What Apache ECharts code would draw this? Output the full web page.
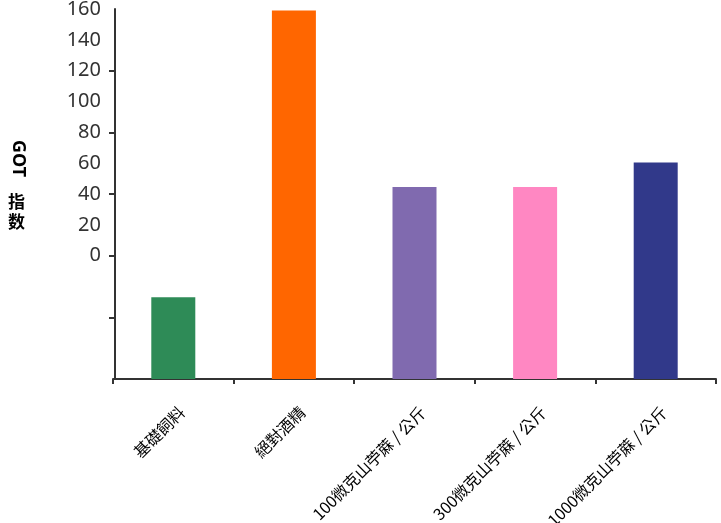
<!DOCTYPE html>
<html>
<head>
<meta charset="utf-8">
<script src="https://cdn.jsdelivr.net/npm/echarts@6/dist/echarts.min.js"></script>
<style>html,body{margin:0;padding:0;background:#fff}#c{width:721px;height:523px}</style>
</head>
<body>
<div id="c"></div>
<script>
var categories = ['基礎飼料', '絕對酒精', '100微克山苧蔴 / 公斤', '300微克山苧蔴 / 公斤', '1000微克山苧蔴 / 公斤'];
var values = [-27, 159, 44.5, 44.5, 60.5];
var colors = ['#2e8b57', '#ff6600', '#806aaf', '#ff87c2', '#31398a'];
var yLabelValues = [0, 20, 40, 60, 80, 100, 120, 140, 160];
var yTickValues = [-40, 0, 40, 80, 120];
var yMin = -80, yMax = 160;

var chart = echarts.init(document.getElementById('c'), null, {renderer: 'canvas'});
chart.setOption({
  animation: false,
  backgroundColor: '#fff',
  grid: {left: 113, right: 5, top: 9, bottom: 144, containLabel: false, outerBoundsMode: 'none'},
  xAxis: {
    type: 'category',
    data: categories,
    axisLine: {onZero: false, lineStyle: {color: '#333', width: 2}},
    axisTick: {show: true, alignWithLabel: false, length: 5, lineStyle: {color: '#333', width: 2}},
    axisLabel: {rotate: 45, interval: 0, margin: 22, fontSize: 16, color: '#000',
      verticalAlign: 'top', padding: [4, 0, 0, 0],
      fontFamily: '"Noto Sans CJK TC", "Noto Sans CJK SC", sans-serif'},
    splitLine: {show: false}
  },
  yAxis: {
    type: 'value',
    min: yMin, max: yMax,
    startValue: yMin,
    offset: -2,
    axisLine: {show: true, lineStyle: {color: '#333', width: 2}},
    axisTick: {show: true, length: 6, customValues: yTickValues, lineStyle: {color: '#333', width: 2}},
    axisLabel: {customValues: yLabelValues, fontSize: 20, color: '#333', margin: 14,
      fontFamily: '"Noto Sans", sans-serif'},
    splitLine: {show: false}
  },
  graphic: [
    {type: 'text', x: 27, y: 140, rotation: -Math.PI / 2,
      style: {text: 'GOT', font: 'bold 18px "Noto Sans", sans-serif', fill: '#000'}},
    {type: 'text', x: 8, y: 192,
      style: {text: '指\n数', font: 'bold 17px "Noto Sans CJK SC", sans-serif', fill: '#000', lineHeight: 20}}
  ],
  series: [{
    type: 'bar',
    data: values.map(function (v, i) { return {value: v, itemStyle: {color: colors[i]}}; }),
    barWidth: 44
  }]
});
</script>
</body>
</html>
